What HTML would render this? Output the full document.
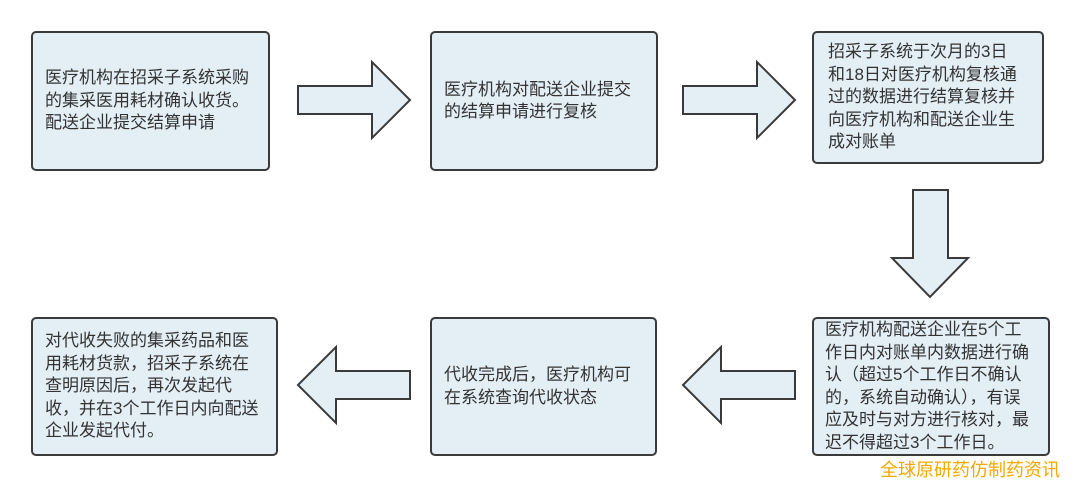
<!DOCTYPE html>
<html><head><meta charset="utf-8"><style>
body{margin:0;width:1080px;height:487px;background:#fff;position:relative;overflow:hidden;font-family:"Liberation Sans","Noto Sans CJK SC",sans-serif;}
.b{position:absolute;box-sizing:border-box;background:#e3eef5;border:2px solid #3a3a3a;border-radius:5px;font-size:17px;line-height:22.5px;color:#333;display:flex;align-items:center;padding:0 12px;white-space:nowrap;}
svg{position:absolute;left:0;top:0}
.w{position:absolute;left:880px;top:456px;color:#f5a800;font-size:18px;white-space:nowrap;}
</style></head><body>
<svg width="1080" height="487">
<g fill="#e3eef5" stroke="#3a3a3a" stroke-width="2">
<polygon points="298,86 372,86 372,62 410,100 372,138 372,114 298,114"/>
<polygon points="683,86 757,86 757,62 795,100 757,138 757,114 683,114"/>
<polygon points="913,190 948,190 948,258 968,258 930,297 892,258 913,258"/>
<polygon points="795,371 721,371 721,347 683,385 721,423 721,399 795,399"/>
<polygon points="410,371 336,371 336,347 298,385 336,423 336,399 410,399"/>
</g></svg>
<div class="b" style="left:31px;top:31px;width:239px;height:140px;"><div>医疗机构在招采子系统采购<br>的集采医用耗材确认收货。<br>配送企业提交结算申请</div></div>
<div class="b" style="left:430px;top:31px;width:228px;height:140px;"><div>医疗机构对配送企业提交<br>的结算申请进行复核</div></div>
<div class="b" style="left:812px;top:31px;width:232px;height:133px;padding-left:14px;"><div>招采子系统于次月的3日<br>和18日对医疗机构复核通<br>过的数据进行结算复核并<br>向医疗机构和配送企业生<br>成对账单</div></div>
<div class="b" style="left:812px;top:317px;width:238px;height:139px;padding-left:11px;"><div>医疗机构配送企业在5个工<br>作日内对账单内数据进行确<br>认（超过5个工作日不确认<br>的，系统自动确认），有误<br>应及时与对方进行核对，最<br>迟不得超过3个工作日。</div></div>
<div class="b" style="left:430px;top:317px;width:227px;height:139px;"><div>代收完成后，医疗机构可<br>在系统查询代收状态</div></div>
<div class="b" style="left:31px;top:317px;width:247px;height:139px;"><div>对代收失败的集采药品和医<br>用耗材货款，招采子系统在<br>查明原因后，再次发起代<br>收，并在3个工作日内向配送<br>企业发起代付。</div></div>
<div class="w">全球原研药仿制药资讯</div>
</body></html>
